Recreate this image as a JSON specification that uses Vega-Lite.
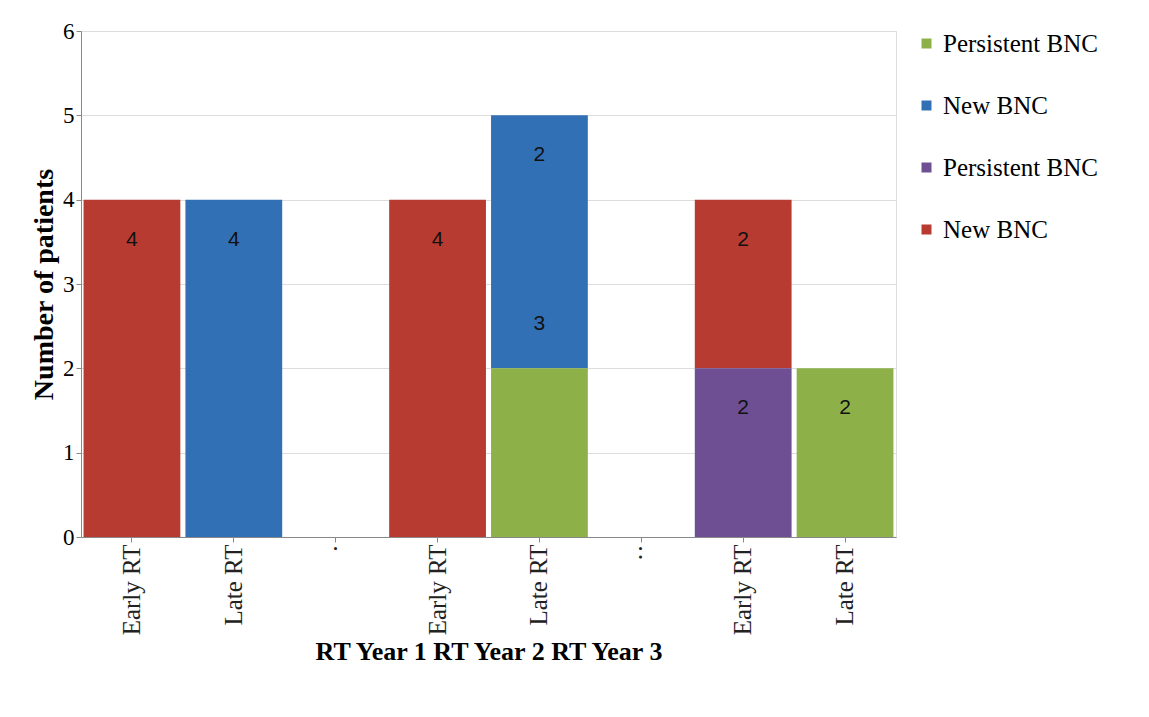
{
  "$schema": "https://vega.github.io/schema/vega-lite/v6.json",
  "width": 815,
  "height": 506,
  "padding": {"left": 30, "top": 20, "right": 20, "bottom": 10},
  "data": {
    "values": [
      {"slot": "Early RT", "series": "New BNC", "count": 4},
      {"slot": "Late RT", "series": "New BNC ", "count": 4},
      {"slot": " Early RT", "series": "New BNC", "count": 4},
      {"slot": " Late RT", "series": "New BNC ", "count": 3},
      {"slot": " Late RT", "series": "Persistent BNC ", "count": 2},
      {"slot": "  Early RT", "series": "New BNC", "count": 2},
      {"slot": "  Early RT", "series": "Persistent BNC", "count": 2},
      {"slot": "  Late RT", "series": "Persistent BNC ", "count": 2}
    ]
  },
  "layer": [
    {
      "mark": {"type": "bar"},
      "encoding": {
        "x": {
          "field": "slot",
          "type": "nominal",
          "scale": {
            "domain": ["Early RT", "Late RT", "·", " Early RT", " Late RT", "··", "  Early RT", "  Late RT"],
            "paddingInner": 0.05,
            "paddingOuter": 0.025
          },
          "axis": {
            "title": "RT Year 1                    RT Year 2                    RT Year 3",
            "titleFont": "Liberation Serif",
            "titleFontSize": 26,
            "titleFontWeight": "bold",
            "labelAngle": -90,
            "labelFont": "Liberation Serif",
            "labelFontSize": 25,
            "labelColor": "#222"
          }
        },
        "y": {
          "field": "count",
          "type": "quantitative",
          "stack": "zero",
          "scale": {"domain": [0, 6]},
          "axis": {
            "title": "Number of patients",
            "titleFont": "Liberation Serif",
            "titleFontSize": 28,
            "labelFont": "Liberation Serif",
            "labelFontSize": 23,
            "tickCount": 6
          }
        },
        "color": {
          "field": "series",
          "type": "nominal",
          "scale": {
            "domain": ["Persistent BNC ", "New BNC ", "Persistent BNC", "New BNC"],
            "range": ["#8DB148", "#3270B5", "#6E4F93", "#B83B32"]
          },
          "legend": {
            "title": null,
            "symbolType": "square",
            "labelFont": "Liberation Serif",
            "labelFontSize": 25,
            "rowPadding": 36
          }
        }
      }
    },
    {
      "mark": {"type": "text", "fontSize": 21, "color": "#111", "dy": 40},
      "encoding": {
        "x": {"field": "slot", "type": "nominal"},
        "y": {"field": "count", "type": "quantitative", "stack": "zero"},
        "detail": {"field": "series", "type": "nominal"},
        "text": {"field": "count", "type": "nominal"}
      }
    }
  ]
}
